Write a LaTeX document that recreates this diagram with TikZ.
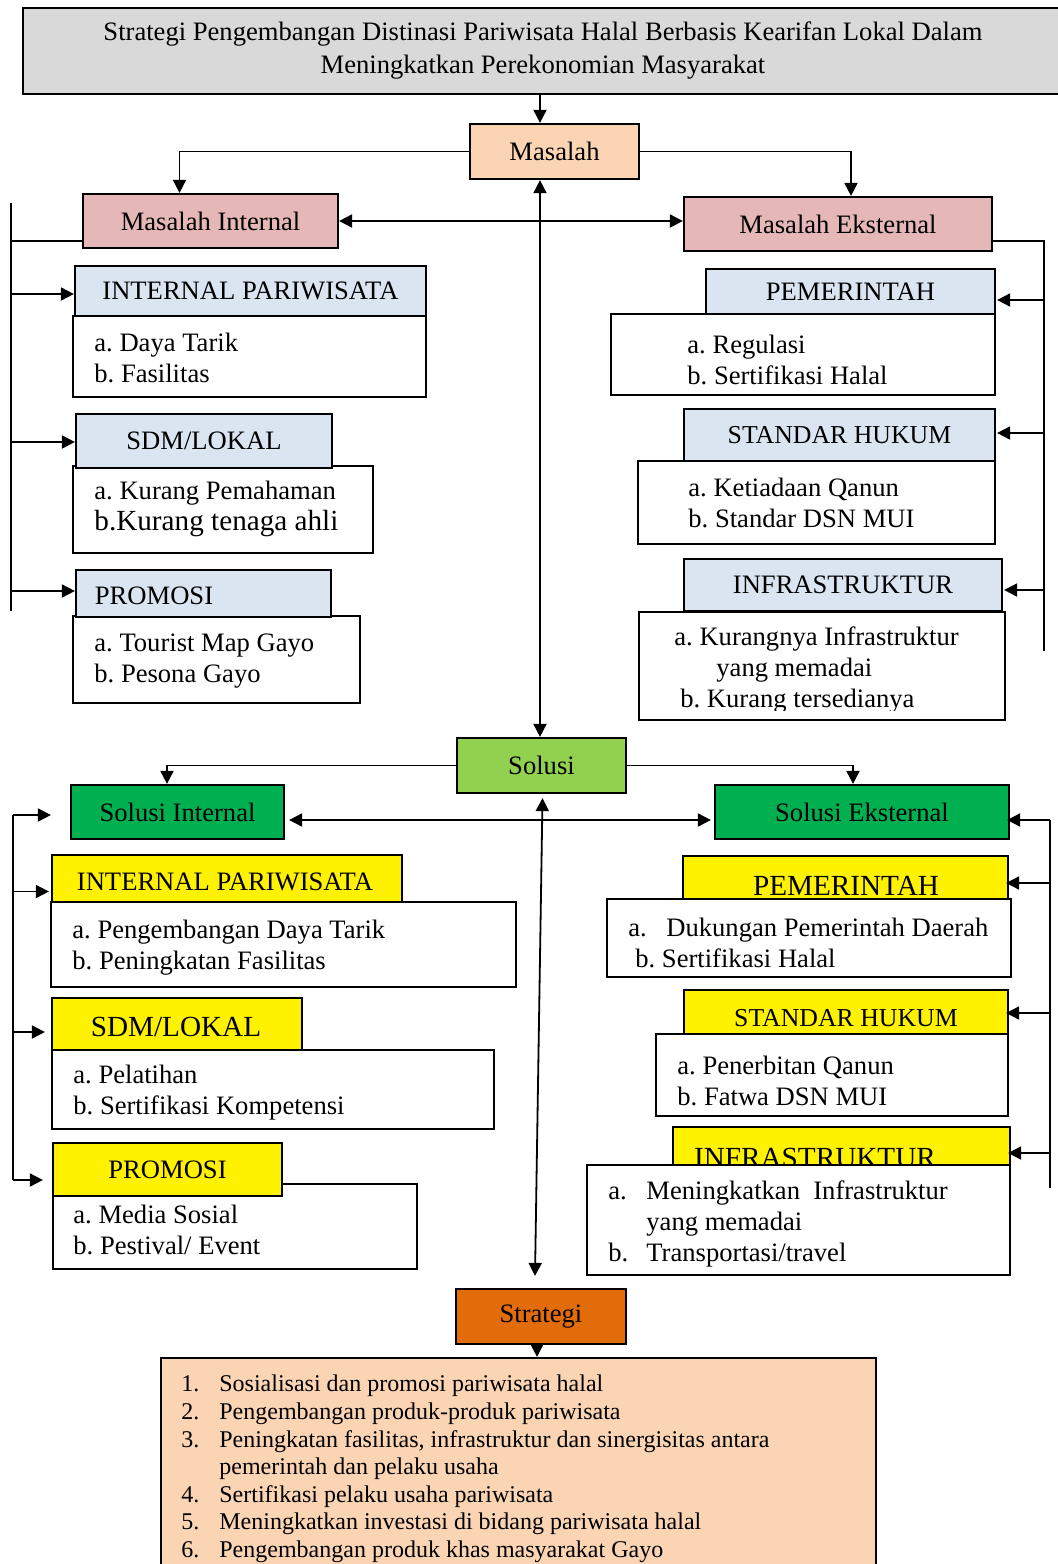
\documentclass[tikz,border=0pt]{standalone}
\usepackage{fontspec}
\setmainfont{Liberation Serif}
\usetikzlibrary{arrows.meta,positioning,calc,fit}
\frenchspacing

\definecolor{titlegray}{HTML}{D9D9D9}
\definecolor{peach}{HTML}{FBD4B4}
\definecolor{rose}{HTML}{E5B8B7}
\definecolor{paleblue}{HTML}{DBE5F1}
\definecolor{lightgreen}{HTML}{92D050}
\definecolor{darkgreen}{HTML}{00B050}
\definecolor{orangebox}{HTML}{E36C0A}

\newcommand{\bigtxt}{\fontsize{14.6}{17}\selectfont}
\newcommand{\midtxt}{\fontsize{12.9}{14}\selectfont}
\newcommand{\stepno}[1]{\makebox[19pt][l]{#1}}

\tikzset{
  box/.style={draw, line width=1.1pt, inner sep=0pt, fill=white},
  item/.style={anchor=west, align=left, inner sep=0pt},
  link/.style={line width=0.9pt},
  arr/.style={link, -{Triangle[length=6.5pt,width=6.5pt]}},
  dbl/.style={link, {Triangle[length=6.5pt,width=6.5pt]}-{Triangle[length=6.5pt,width=6.5pt]}},
}

\begin{document}
\begin{tikzpicture}[x=0.5pt, y=-0.5pt, font=\fontsize{13.3}{15.5}\selectfont]
\clip (0,0) rectangle (1058,1564);

% Title
\node[box, fill=titlegray, fit={(23,8)(1066,94)}] (title) {};
\node[align=center, font=\fontsize{13.3}{16.5}\selectfont] (titlet) at (543,51)
  {Strategi Pengembangan Distinasi Pariwisata Halal Berbasis Kearifan Lokal Dalam\\
   Meningkatkan Perekonomian Masyarakat};

% Masalah
\node[box, fill=peach, fit={(470,124)(639,179)}, label=center:Masalah] (masalah) {};
\node[box, fill=rose, fit={(83,194)(338,248)}, label=center:Masalah Internal] (mint) {};
\node[box, fill=rose, fit={(684,197)(992,251)}, label=center:Masalah Eksternal] (mext) {};

% Masalah internal items
\node[box, fill=paleblue, fit={(75,266)(426,316)}, label=center:INTERNAL PARIWISATA] (ip1h) {};
\node[box, fit={(73,316)(426,397)}] (ip1b) {};
\node[item] (ip1t) at (94,357.5) {a. Daya Tarik\\b. Fasilitas};

\node[box, fit={(73,466)(373,553)}] (sdm1b) {};
\node[box, fill=paleblue, fit={(76,414)(332,468)}, label=center:SDM/LOKAL] (sdm1h) {};
\node[item] (sdm1t) at (94,509) {a. Kurang Pemahaman\\{\bigtxt b.Kurang tenaga ahli}};

\node[box, fit={(73,616)(360,703)}] (pro1b) {};
\node[box, fill=paleblue, fit={(76,570)(331,617)}] (pro1h) {};
\node (pro1l) at (154,596) {PROMOSI};
\node[item] (pro1t) at (94,661.5) {a. Tourist Map Gayo\\b. Pesona Gayo};

% Masalah eksternal items
\node[box, fill=paleblue, fit={(706,269)(995,314)}, label=center:PEMERINTAH] (pem1h) {};
\node[box, fit={(611,314)(995,395)}] (pem1b) {};
\node[item] (pem1t) at (687,359.5) {a. Regulasi\\b. Sertifikasi Halal};

\node[box, fill=paleblue, fit={(684,409)(995,461)}, label={[font=\midtxt]center:STANDAR HUKUM}] (std1h) {};
\node[box, fit={(638,461)(995,544)}] (std1b) {};
\node[item] (std1t) at (688,503) {a. Ketiadaan Qanun\\b. Standar DSN MUI};

\node[box, fill=paleblue, fit={(684,559)(1002,611)}, label=center:INFRASTRUKTUR] (inf1h) {};
\node[box, fit={(639,612)(1005,720)}] (inf1b) {};
\begin{scope}
  \clip (639,612) rectangle (1005,710);
  \node[item] (inf1t) at (674,669.5)
    {a. Kurangnya Infrastruktur\\\hspace*{21pt}yang memadai\\\hspace*{3pt}b. Kurang tersedianya};
\end{scope}

% Solusi
\node[box, fill=lightgreen, fit={(457,738)(626,793)}, label=center:Solusi] (solusi) {};
\node[box, fill=darkgreen, fit={(71,785)(284,839)}, label=center:Solusi Internal] (sint) {};
\node[box, fill=darkgreen, fit={(715,785)(1009,839)}, label=center:Solusi Eksternal] (sext) {};

% Solusi internal items
\node[box, fill=yellow, fit={(52,855)(402,902)}] (ip2h) {};
\node (ip2l) at (225,882) {INTERNAL PARIWISATA};
\node[box, fit={(51,902)(516,987)}] (ip2b) {};
\node[item] (ip2t) at (72,947.5) {a. Pengembangan Daya Tarik\\b. Peningkatan Fasilitas};

\node[box, fill=yellow, fit={(52,998)(302,1050)}] (sdm2h) {};
\node[font=\bigtxt] (sdm2l) at (176,1027) {SDM/LOKAL};
\node[box, fit={(52,1050)(494,1129)}] (sdm2b) {};
\node[item] (sdm2t) at (73,1092.5) {a. Pelatihan\\b. Sertifikasi Kompetensi};

\node[box, fit={(53,1184)(417,1269)}] (pro2b) {};
\node[box, fill=yellow, fit={(53,1143)(282,1196)}, label=center:PROMOSI] (pro2h) {};
\node[item] (pro2t) at (73,1230) {a. Media Sosial\\b. Pestival/ Event};

% Solusi eksternal items
\node[box, fill=yellow, fit={(683,856)(1008,900)}] (pem2h) {};
\node[font=\bigtxt] (pem2l) at (846,886) {PEMERINTAH};
\node[box, fit={(607,899)(1011,977)}] (pem2b) {};
\node[item] (pem2t) at (628,942.5)
  {\stepno{a.}Dukungan Pemerintah Daerah\\\hspace*{3.5pt}b. Sertifikasi Halal};

\node[box, fill=yellow, fit={(684,990)(1008,1034)}] (std2h) {};
\node[font=\midtxt] (std2l) at (846,1018) {STANDAR HUKUM};
\node[box, fit={(656,1034)(1008,1116)}] (std2b) {};
\node[item] (std2t) at (677,1080.5) {a. Penerbitan Qanun\\b. Fatwa DSN MUI};

\node[box, fill=yellow, fit={(673,1127)(1010,1166)}] (inf2h) {};
\node[font=\bigtxt] (inf2l) at (815,1158) {INFRASTRUKTUR};
\node[box, fit={(587,1165)(1010,1275)}] (inf2b) {};
\node[item] (inf2t) at (608,1224)
  {\stepno{a.}Meningkatkan\ \ Infrastruktur\\\hspace*{19pt}yang memadai\\\stepno{b.}Transportasi/travel};

% Strategi
\node[box, fill=orangebox, fit={(456,1289)(626,1344)}, label=center:Strategi] (strat) {};
\node[box, fill=peach, fit={(161,1358)(876,1580)}] (final) {};
\node[item, font=\fontsize{12}{13.8}\selectfont] (steps) at (181,1469)
  {\stepno{1.}Sosialisasi dan promosi pariwisata halal\\
   \stepno{2.}Pengembangan produk-produk pariwisata\\
   \stepno{3.}Peningkatan fasilitas, infrastruktur dan sinergisitas antara\\
   \hspace*{19pt}pemerintah dan pelaku usaha\\
   \stepno{4.}Sertifikasi pelaku usaha pariwisata\\
   \stepno{5.}Meningkatkan investasi di bidang pariwisata halal\\
   \stepno{6.}Pengembangan produk khas masyarakat Gayo};

% connectors top
\coordinate (axis) at (540,0);
\draw[arr] (axis |- title.south) -- (axis |- masalah.north);
\draw[arr] (masalah.west) -| ($(mint.north)+(-31,0)$);
\draw[arr] (masalah.east) -| ($(mext.north)+(13,0)$);
\draw[dbl] (mint.east) -- (mint.east -| mext.west);
\draw[dbl] (axis |- masalah.south) -- (axis |- solusi.north);

% left bar masalah
\coordinate (lbar) at (11,0);
\draw[link] (11,203) -- (11,611);
\draw[link] ($(mint.south west)+(0,-8)$) -- ++(-72,0);
\foreach \h/\dy in {ip1h/3, sdm1h/1, pro1h/-2.5}
  \draw[arr] ($(lbar |- \h.west)+(0,\dy)$) -- ($(\h.west)+(0,\dy)$);

% right bar masalah
\coordinate (rbar) at (1044,0);
\draw[link] ($(mext.south east)+(0,-11)$) -| (1044,651);
\foreach \h/\dy in {pem1h/8.5, std1h/-2, inf1h/5}
  \draw[arr] ($(rbar |- \h.east)+(0,\dy)$) -- ($(\h.east)+(1,\dy)$);

% connectors solusi
\draw[arr] (solusi.west) -| ($(sint.north)+(-10.5,0)$);
\draw[arr] (solusi.east) -| ($(sext.north)+(-9,0)$);
\draw[dbl] ($(sint.east)+(4,8)$) -- ($(sext.west)+(-3,8)$);
\draw[dbl] ($(solusi.south)+(1,4)$) -- ($(strat.north)+(-6,-12)$);

% left bar solusi
\coordinate (lbar2) at (13,0);
\draw[link] (13,815) -- (13,1180);
\draw[arr] ($(lbar2 |- sint.west)+(0,3)$) -- ($(sint.west)+(-19,3)$);
\foreach \h/\dy/\gap in {ip2h/13/2, sdm2h/8/6, pro2h/10.5/9}
  \draw[arr] ($(lbar2 |- \h.west)+(0,\dy)$) -- ($(\h.west)+(-\gap,\dy)$);

% right bar solusi
\coordinate (rbar2) at (1050,0);
\draw[link] (1050,820) -- (1050,1188);
\foreach \h/\dy in {sext/8, pem2h/5, std2h/1, inf2h/6.5}
  \draw[arr] ($(rbar2 |- \h.east)+(0,\dy)$) -- ($(\h.east)+(-3,\dy)$);

\draw[arr] ($(strat.south)+(-4,0)$) -- ($(strat.south |- final.north)+(-4,0)$);
\end{tikzpicture}
\end{document}
